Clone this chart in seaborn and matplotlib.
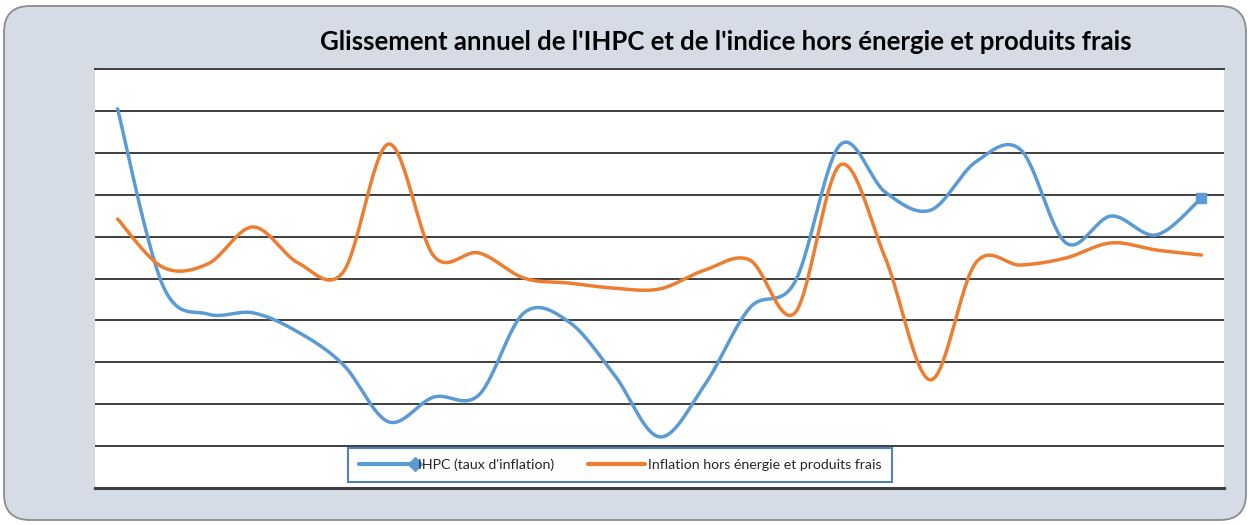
import numpy as np
import pandas as pd
import matplotlib
matplotlib.use("Agg")
import matplotlib.pyplot as plt
import matplotlib.patches as mpatches
from matplotlib.lines import Line2D
from matplotlib.legend_handler import HandlerLine2D
import seaborn as sns

# values, in gridline units (no axis labels on the original)
months = list(range(25))
ihpc = [9.05, 4.84, 4.15, 4.18, 3.72, 2.94, 1.58, 2.17, 2.22, 4.18, 3.96, 2.70, 1.22,
        2.46, 4.30, 4.92, 8.19, 7.06, 6.63, 7.78, 8.07, 5.85, 6.49, 6.04, 6.92]
core = [6.42, 5.27, 5.35, 6.23, 5.37, 5.16, 8.21, 5.54, 5.61, 5.01, 4.89, 4.77, 4.75,
        5.20, 5.44, 4.18, 7.71, 5.49, 2.58, 5.37, 5.32, 5.49, 5.85, 5.68, 5.56]
label_ihpc = "IHPC (taux d'inflation)"
label_core = "Inflation hors énergie et produits frais"
title = "Glissement annuel de l'IHPC et de l'indice hors énergie et produits frais"

BLUE = "#5B9BD5"
ORANGE = "#ED7D31"


def smooth(x, y, n=30):
    # Excel-like smoothed line (Catmull-Rom through every point)
    p = np.column_stack([x, y]).astype(float)
    p = np.vstack([p[0], p, p[-1]])
    t = np.linspace(0, 1, n)[:, None]
    out = []
    for i in range(1, len(p) - 2):
        p0, p1, p2, p3 = p[i - 1], p[i], p[i + 1], p[i + 2]
        c1 = p1 + (p2 - p0) / 6
        c2 = p2 - (p3 - p1) / 6
        seg = ((1 - t) ** 3) * p1 + 3 * ((1 - t) ** 2) * t * c1 + 3 * (1 - t) * t ** 2 * c2 + t ** 3 * p2
        out.append(seg if i == 1 else seg[1:])
    return np.vstack(out)


class EndMarker(HandlerLine2D):
    def create_artists(self, *args, **kwargs):
        arts = super().create_artists(*args, **kwargs)
        for a in arts:
            if a.get_marker() not in (None, "None", ""):
                a.set_markevery([2])
        return arts


sns.set_style("white")
plt.rcParams["font.family"] = ["Lato", "DejaVu Sans"]

fig = plt.figure(figsize=(12.5, 5.25), dpi=100, facecolor="white")
frame = mpatches.FancyBboxPatch((4, 5), 1242, 514, boxstyle="round,pad=0,rounding_size=26",
                                transform=None, facecolor="#D6DCE5", edgecolor="#8C8C8C",
                                lw=1.3, zorder=-10)
fig.patches.append(frame)

ax = fig.add_axes([95 / 1250, 37 / 525, 1129 / 1250, 419 / 525])
ax.set_facecolor("white")

frames = []
for name, vals in [(label_ihpc, ihpc), (label_core, core)]:
    s = smooth(months, vals)
    frames.append(pd.DataFrame({"x": s[:, 0], "y": s[:, 1], "serie": name}))
df = pd.concat(frames, ignore_index=True)

sns.lineplot(data=df, x="x", y="y", hue="serie", palette=[BLUE, ORANGE], sort=False,
             estimator=None, lw=2.5, legend=False, ax=ax, zorder=3)
ax.plot(months[-1], ihpc[-1], marker="s", ms=7.5, color=BLUE, zorder=4)

ax.set_xlim(-0.5, 24.5)
ax.set_ylim(0, 10)
ax.set_yticks(range(11))
ax.set_xticks([])
ax.set_yticklabels([])
ax.tick_params(length=0)
ax.grid(axis="y", color="#3F3F3F", lw=1.4)
ax.set_xlabel("")
ax.set_ylabel("")
for side in ["left", "right"]:
    ax.spines[side].set_visible(False)
ax.spines["top"].set_color("#3F3F3F")
ax.spines["top"].set_linewidth(1.4)
ax.spines["bottom"].set_color("#3F3F3F")
ax.spines["bottom"].set_linewidth(2.2)

handles = [Line2D([], [], color=BLUE, lw=3, marker="D", ms=7),
           Line2D([], [], color=ORANGE, lw=3)]
leg = ax.legend(handles, [label_ihpc, label_core], loc="center", bbox_to_anchor=(0.465, 0.055),
                ncol=2, frameon=True, fancybox=False, fontsize=10.2, handlelength=4.0,
                handletextpad=0.2, columnspacing=2.4, borderpad=0.75, numpoints=1,
                handler_map={handles[0]: EndMarker()})
leg.get_frame().set_edgecolor("#4F81BD")
leg.get_frame().set_linewidth(1.5)
leg.get_frame().set_alpha(1)

fig.text(726 / 1250, 1 - 42 / 525, title, ha="center", va="center",
         fontsize=18.5, fontweight="bold", color="black")

fig.savefig("out.png", dpi=100, facecolor="white")
